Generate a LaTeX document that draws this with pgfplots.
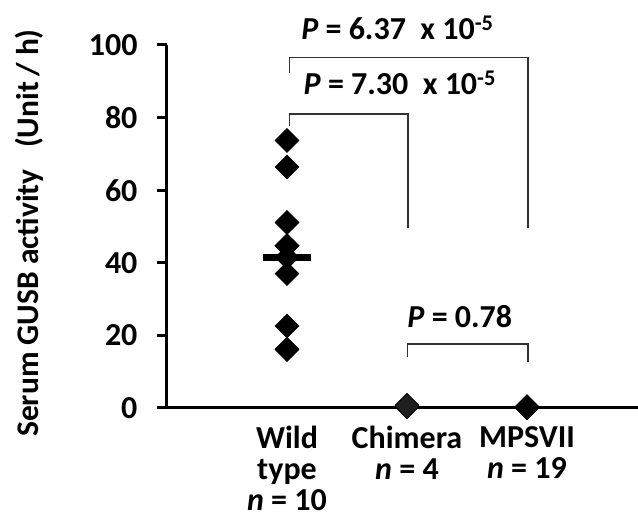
\documentclass[border=0pt]{standalone}
\usepackage{fontspec}
\setmainfont{Carlito}
\usepackage{pgfplots}
\pgfplotsset{compat=1.18}
\begin{document}
\begin{tikzpicture}
\begin{axis}[name=ax, scale only axis, width=471pt, height=363pt,
  xmin=0, xmax=3.925, ymin=0, ymax=100,
  axis x line=bottom, axis y line=left,
  axis line style={line width=3pt, -},
  ytick={0,20,40,60,80,100}, tick align=outside, major tick length=10pt,
  ytick style={line width=3pt, black},
  xtick={1,2,3}, xtick style={draw=none},
  xticklabels={{Wild\\type\\\textit{n} = 10},{Chimera\\\textit{n} = 4},{MPSVII\\\textit{n} = 19}},
  xticklabel style={align=center, yshift=-7pt, inner sep=1pt, font=\fontsize{32}{31}\selectfont\bfseries},
  yticklabel style={xshift=-16pt, font=\fontsize{32}{33}\selectfont\bfseries},
  /pgf/number format/assume math mode=true,
  clip=false,
  ylabel={Serum GUSB activity~~~(Unit\,/ h)},
  ylabel style={at={(axis description cs:-0.293,0.482)}, anchor=center, font=\fontsize{31.5}{33}\selectfont\bfseries},
]
% brackets
\addplot[line width=1.6pt, black!80, mark=none] coordinates {(1.02,92.4) (1.02,96.6) (3.01,96.6) (3.01,49.7)};
\addplot[line width=1.6pt, black!80, mark=none] coordinates {(1.02,77.6) (1.02,81.0) (2.01,81.0) (2.01,49.7)};
\addplot[line width=1.6pt, black!80, mark=none] coordinates {(2.005,14.0) (2.005,17.7) (3.01,17.7) (3.01,12.8)};
% data
\addplot[only marks, mark=square*, mark size=8.5pt, mark options={rotate=45, fill=black, draw=black}] coordinates {
 (1,73.7) (1,66.4) (1,51.1) (1,44.7) (1,44.7) (1,41.5) (1,37.0) (1,22.6) (1,16.2) (1,16.1)};
\addplot[only marks, mark=square*, mark size=8.5pt, mark options={rotate=45, fill=black!88, draw=black}] coordinates {
 (2,0.6) (2,0.3) (2,0.8) (2,0.5)};
\addplot[only marks, mark=square*, mark size=8.5pt, mark options={rotate=45, fill=black, draw=black}] coordinates {
 (3,0.2) (3,0.1) (3,0.3) (3,0.2) (3,0.1) (3,0.2) (3,0.3) (3,0.2) (3,0.1) (3,0.2)
 (3,0.2) (3,0.1) (3,0.3) (3,0.2) (3,0.1) (3,0.2) (3,0.3) (3,0.2) (3,0.1)};
% mean
\addplot[line width=6.5pt, black, mark=none] coordinates {(0.8,41.4) (1.2,41.4)};
% p labels
\node[font=\fontsize{32}{33}\selectfont\bfseries] at (axis cs:1.92,104.8) {\textit{P} = 6.37~ x 10\textsuperscript{-5}};
\node[font=\fontsize{32}{33}\selectfont\bfseries] at (axis cs:1.94,89.7) {\textit{P} = 7.30~ x 10\textsuperscript{-5}};
\node[font=\fontsize{32}{33}\selectfont\bfseries] at (axis cs:2.44,25.1) {\textit{P} = 0.78};
\end{axis}
\pgfresetboundingbox
\path (ax.south west) ++(-167pt,-111pt) rectangle ++(638pt,519pt);
\end{tikzpicture}
\end{document}
